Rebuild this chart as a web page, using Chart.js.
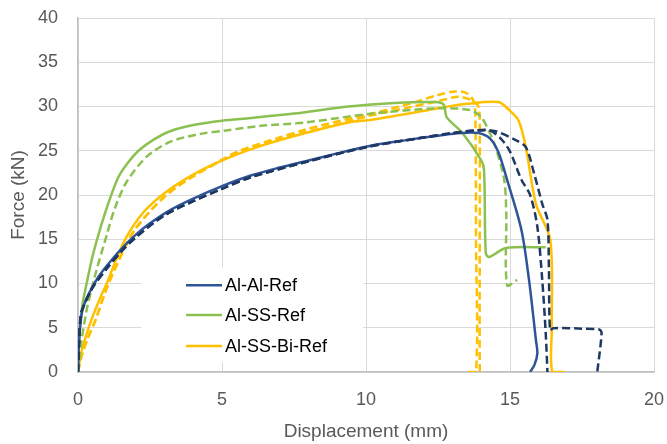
<!DOCTYPE html>
<html>
<head>
<meta charset="utf-8">
<script src="https://cdn.jsdelivr.net/npm/chart.js@4/dist/chart.umd.min.js"></script>
<style>
html,body{margin:0;padding:0;background:#fff;}
#wrap{width:667px;height:444px;}
</style>
</head>
<body>
<div id="wrap"><canvas id="c" width="667" height="444"></canvas></div>
<script>
// ---- data (displacement mm, force kN) ----
const xTicks = [0, 5, 10, 15, 20];
const yTicks = [0, 5, 10, 15, 20, 25, 30, 35, 40];
const legendLabels = ['Al-Al-Ref', 'Al-SS-Ref', 'Al-SS-Bi-Ref'];

const alAlRefX = [0, 0.03, 0.1, 0.2, 0.4, 0.7, 1, 1.5, 2, 2.5, 3.2, 4, 5, 6, 7, 8, 9, 10.2, 11.4, 12.5, 13.3, 13.9, 14.3, 14.6, 14.9, 15.4, 15.66, 15.9, 15.95, 15.85, 15.7];
const alAlRefY = [0, 3, 6, 7.5, 9, 10.7, 12, 13.9, 15.5, 16.8, 18.3, 19.6, 21, 22.2, 23.1, 23.9, 24.7, 25.6, 26.2, 26.7, 27.0, 27.0, 26.4, 24.8, 21.7, 16, 10.4, 3.6, 2.1, 0.8, 0];

const alAlRef2X = [0, 0.03, 0.1, 0.2, 0.5, 1, 1.5, 2, 3, 4, 5, 6, 8, 10, 12, 13, 13.8, 14.3, 14.7, 15.0, 15.4, 15.7, 15.95, 16.12, 16.24, 16.3];
const alAlRef2Y = [0, 3, 6.5, 7.5, 9.5, 11.7, 13.6, 15.2, 17.7, 19.3, 20.7, 22, 23.8, 25.4, 26.5, 27, 27.3, 27.3, 26.3, 24.9, 21.7, 20.0, 16.4, 10.4, 4.4, 0];

const alAlRef3X = [0, 0.03, 0.1, 0.2, 0.5, 1, 1.5, 2, 3, 4, 5, 6, 8, 10, 12, 13, 14, 14.5, 15.2, 15.55, 15.84, 16.12, 16.3, 16.35, 16.39, 16.5, 17.5, 18.1, 18.18, 18.03];
const alAlRef3Y = [0, 3, 6.5, 7.5, 9.5, 11.7, 13.6, 15.2, 17.7, 19.3, 20.7, 22, 23.8, 25.4, 26.5, 27, 27.3, 27.2, 26.2, 25.4, 22.4, 19.0, 17.2, 11.9, 4.7, 4.95, 4.9, 4.8, 4.4, 0];

const alSsRefX = [0, 0.05, 0.15, 0.3, 0.5, 0.8, 1.1, 1.4, 1.7, 2.1, 2.6, 3.2, 4, 5, 6, 7.5, 9.4, 11, 12.4, 12.7, 12.8, 13.35, 14.0, 14.1, 14.16, 14.28, 14.86, 16.24];
const alSsRefY = [0, 4, 7.5, 10, 13, 16.5, 19.5, 22, 23.5, 25, 26.2, 27.2, 27.9, 28.4, 28.7, 29.2, 30, 30.4, 30.5, 30.2, 28.8, 27, 23.9, 22.8, 13.4, 13.0, 14.0, 14.1];

const alSsRef2X = [0, 0.1, 0.3, 0.6, 1, 1.28, 1.69, 2.38, 3.19, 4.23, 5.15, 6.3, 7.9, 10.2, 12.5, 13.6, 14.0, 14.3, 14.5, 14.8, 14.87, 14.9, 15.25];
const alSsRef2Y = [0, 3, 7, 11, 15.5, 18.5, 21.5, 24.3, 26, 26.9, 27.3, 27.8, 28.2, 29.2, 29.8, 29.6, 28.8, 27, 25.4, 21.7, 17.9, 9.8, 10.4];

const alSsBiRefX = [0, 0.1, 0.3, 0.5, 0.8, 1, 1.3, 1.69, 2.26, 3, 4, 5.15, 6.3, 7.9, 9.4, 10.2, 11.5, 12.5, 13.5, 14.6, 14.97, 15.3, 15.55, 15.9, 16.4, 16.45, 16.47, 16.9];
const alSsBiRefY = [0, 2, 4.3, 6.2, 8.6, 10, 12.5, 15.3, 18, 20.2, 22.3, 24.1, 25.5, 27.0, 28.2, 28.5, 29.2, 29.8, 30.3, 30.5, 29.6, 28.4, 25.4, 19.0, 14.9, 5, 0, 0];

const alSsBiRef2X = [0, 0.1, 0.3, 0.6, 1, 1.5, 2, 3, 4, 5, 5.6, 7, 7.9, 9, 10.2, 11.5, 12.5, 13.1, 13.5, 13.75, 13.8, 13.82, 13.82, 13.5];
const alSsBiRef2Y = [0, 1.5, 3.5, 5.8, 9.5, 13.2, 16.2, 19.8, 22.2, 24.0, 25.0, 26.5, 27.4, 28.3, 29.2, 30.3, 31.3, 31.7, 31.5, 30.5, 28, 15, 0, 0];

const alSsBiRef3X = [0, 0.1, 0.3, 0.6, 1, 1.5, 2, 3, 4, 5, 5.6, 7, 7.9, 9, 10.2, 11.5, 12.5, 13.2, 13.6, 13.9, 13.95, 13.95, 14.0];
const alSsBiRef3Y = [0, 1.5, 3.5, 5.8, 9.5, 13.2, 16.2, 19.8, 22.1, 23.9, 24.8, 26.3, 27.1, 28.0, 29.0, 29.9, 30.6, 31.1, 30.8, 30.0, 27, 0, 0];

function pts(xs, ys) { return xs.map((x, i) => ({ x: x, y: ys[i] })); }

const BLUE = '#2E5597', NAVY = '#1F3864', GREEN = '#8CC152', YELLOW = '#FFC000';
const DASH = [8, 4];

const datasets = [
  { label: 'Al-Al-Ref (2)', data: pts(alAlRef2X, alAlRef2Y), borderColor: NAVY, borderDash: DASH },
  { label: 'Al-Al-Ref (3)', data: pts(alAlRef3X, alAlRef3Y), borderColor: NAVY, borderDash: DASH },
  { label: 'Al-Al-Ref', data: pts(alAlRefX, alAlRefY), borderColor: BLUE },
  { label: 'Al-SS-Ref (2)', data: pts(alSsRef2X, alSsRef2Y), borderColor: GREEN, borderDash: DASH },
  { label: 'Al-SS-Ref', data: pts(alSsRefX, alSsRefY), borderColor: GREEN },
  { label: 'Al-SS-Bi-Ref (2)', data: pts(alSsBiRef2X, alSsBiRef2Y), borderColor: YELLOW, borderDash: DASH },
  { label: 'Al-SS-Bi-Ref (3)', data: pts(alSsBiRef3X, alSsBiRef3Y), borderColor: YELLOW, borderDash: DASH },
  { label: 'Al-SS-Bi-Ref', data: pts(alSsBiRefX, alSsBiRefY), borderColor: YELLOW }
].map(d => Object.assign({ showLine: true, pointRadius: 0, borderWidth: 2.5, tension: 0.3, fill: false, backgroundColor: d.borderColor }, d));

const FONT = "'Liberation Sans', Arial, sans-serif";

const legendBox = {
  id: 'legendBox',
  beforeDatasetsDraw(chart) {
    const ctx = chart.ctx;
    const xs = chart.scales.x, ys = chart.scales.y;
    const left = xs.getPixelForValue(2.2), right = xs.getPixelForValue(9.9);
    const top = ys.getPixelForValue(11.8), bottom = ys.getPixelForValue(1.1);
    ctx.save();
    ctx.fillStyle = '#ffffff';
    ctx.fillRect(left, top, right - left, bottom - top);
    ctx.restore();
  },
  afterDatasetsDraw(chart) {
    const ctx = chart.ctx;
    const xs = chart.scales.x, ys = chart.scales.y;
    const colors = [BLUE, GREEN, YELLOW];
    const rowsY = [9.8, 6.45, 2.95];
    const x0 = xs.getPixelForValue(3.75), x1 = xs.getPixelForValue(5.0);
    ctx.save();
    ctx.font = '18px ' + FONT;
    ctx.textBaseline = 'middle';
    ctx.textAlign = 'left';
    legendLabels.forEach((t, i) => {
      const y = ys.getPixelForValue(rowsY[i]);
      ctx.strokeStyle = colors[i];
      ctx.lineWidth = 2.5;
      ctx.beginPath();
      ctx.moveTo(x0, y);
      ctx.lineTo(x1, y);
      ctx.stroke();
      ctx.fillStyle = '#000000';
      ctx.fillText(t, x1 + 3, y + 1);
    });
    ctx.restore();
  }
};

new Chart(document.getElementById('c'), {
  type: 'scatter',
  data: { datasets: datasets },
  options: {
    responsive: false,
    animation: false,
    layout: { padding: { left: 0, right: 13, top: 18, bottom: 0 } },
    plugins: { legend: { display: false }, tooltip: { enabled: false } },
    scales: {
      x: {
        type: 'linear', min: 0, max: 20,
        afterBuildTicks(s) { s.ticks = xTicks.map(v => ({ value: v })); },
        afterFit(s) { s.height = 72; s.paddingLeft = 0; s.paddingRight = 0; },
        grid: { color: '#d9d9d9', lineWidth: 1, drawTicks: false },
        border: { color: '#bfbfbf', width: 1.5 },
        ticks: { padding: 17, color: '#595959', font: { family: FONT, size: 18 } },
        title: { display: true, text: 'Displacement (mm)', color: '#595959', font: { family: FONT, size: 19 }, padding: { top: 0, bottom: 1 } }
      },
      y: {
        type: 'linear', min: 0, max: 40,
        afterBuildTicks(s) { s.ticks = yTicks.map(v => ({ value: v })); },
        afterFit(s) { s.width = 78; s.paddingTop = 0; s.paddingBottom = 0; },
        grid: { color: '#d9d9d9', lineWidth: 1, drawTicks: false },
        border: { color: '#bfbfbf', width: 1.5 },
        ticks: { padding: 20, color: '#595959', font: { family: FONT, size: 18 } },
        title: { display: true, text: 'Force (kN)', color: '#595959', font: { family: FONT, size: 19 }, padding: { top: 7, bottom: 0 } }
      }
    }
  },
  plugins: [legendBox]
});
</script>
</body>
</html>
